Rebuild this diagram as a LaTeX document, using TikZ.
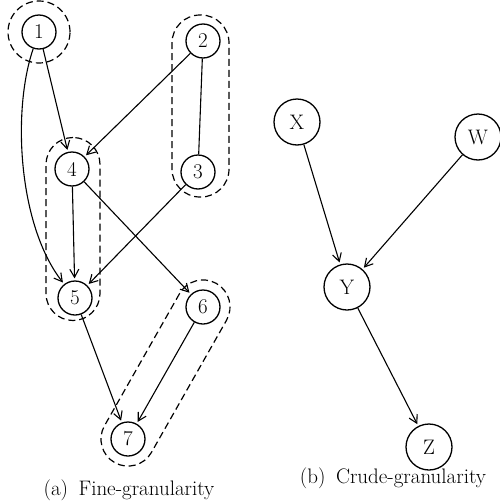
\documentclass[tikz,border=0pt]{standalone}
\usetikzlibrary{arrows.meta}
\begin{document}
\begin{tikzpicture}[x=1pt,y=-1pt,
  every node/.style={font=\fontsize{21}{24}\selectfont},
  fine/.style={circle,draw,line width=1.3pt,minimum size=34pt,inner sep=0pt},
  crude/.style={circle,draw,line width=1.3pt,minimum size=46pt,inner sep=0pt},
  edge/.style={line width=1.1pt,-{Straight Barb[length=8pt,width=9pt,line width=1.1pt]},shorten >=2pt},
  plain/.style={line width=1.1pt},
  grp/.style={draw,line width=1.2pt,dash pattern=on 7pt off 4pt},
  caption/.style={anchor=base}]
\useasboundingbox (0,0) rectangle (500,501);

% fine-granularity graph
\node[fine] (n1) at (39,32) {1};
\node[fine] (n2) at (203,41) {2};
\node[fine] (n3) at (198,172) {3};
\node[fine] (n4) at (72,169) {4};
\node[fine] (n5) at (75,298) {5};
\node[fine] (n6) at (203,307) {6};
\node[fine] (n7) at (128,439) {7};

% dashed groupings
\node[grp,circle,minimum size=62pt,inner sep=0pt] (g1) at (n1) {};
\node[grp,rectangle,rounded corners=28pt,minimum width=57pt,minimum height=182pt] (g23) at (200.5,106) {};
\node[grp,rectangle,rounded corners=27pt,minimum width=54pt,minimum height=183pt] (g45) at (73,229) {};
\node[grp,rectangle,rounded corners=27pt,minimum width=206pt,minimum height=54pt,rotate=60.4] (g67) at (165.5,373) {};

\draw[edge] (n1) -- (n4);
\draw[edge] (n1) .. controls (12,110) and (18,225) .. (n5);
\draw[edge] (n2) -- (n4);
\draw[plain] (n2) -- (n3);
\draw[edge] (n3) -- (n5);
\draw[edge] (n4) -- (n5);
\draw[edge] (n4) -- (n6);
\draw[edge] (n5) -- (n7);
\draw[edge] (n6) -- (n7);

% crude-granularity graph
\node[crude] (x) at (297,122) {X};
\node[crude] (w) at (478,137) {W};
\node[crude] (y) at (347,287) {Y};
\node[crude] (z) at (429,447) {Z};

\draw[edge] (x) -- (y);
\draw[edge] (w) -- (y);
\draw[edge] (y) -- (z);

% captions
\node[caption] (ca) at (129,495) {(a)\enspace Fine-granularity};
\node[caption] (cb) at (393,483) {(b)\enspace Crude-granularity};
\end{tikzpicture}
\end{document}
